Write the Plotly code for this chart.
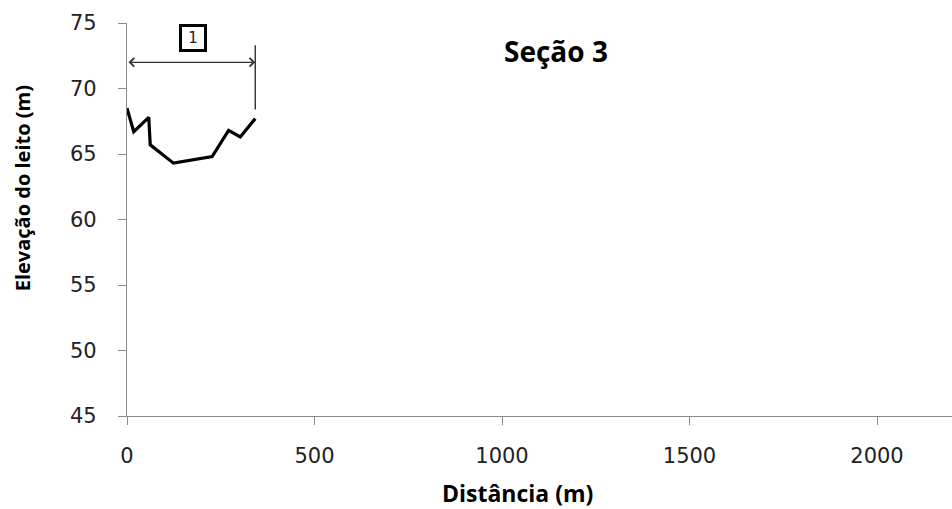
import plotly.graph_objects as go

# Bed profile (distance in m, elevation in m)
distance = [0, 18, 58, 62, 124, 227, 271, 302, 342]
elevation = [68.5, 66.7, 67.8, 65.7, 64.3, 64.8, 66.8, 66.3, 67.7]

# Bracket annotation "1"
bracket_x = [0, 342]
bracket_y = 72.0
marker_line_x = [342, 342]
marker_line_y = [68.4, 73.3]
label_x = 176
label_y = 73.85
label_text = "1"

title_text = "Seção 3"
x_title = "Distância (m)"
y_title = "Elevação do leito (m)"
x_ticks = [0, 500, 1000, 1500, 2000]
y_ticks = [45, 50, 55, 60, 65, 70, 75]

fig = go.Figure()
fig.add_trace(go.Scatter(x=distance, y=elevation, mode="lines",
                         line=dict(color="black", width=3.2), showlegend=False,
                         hoverinfo="skip"))
fig.add_trace(go.Scatter(x=marker_line_x, y=marker_line_y, mode="lines",
                         line=dict(color="#222222", width=1.3), showlegend=False,
                         hoverinfo="skip"))

fig.add_annotation(x=bracket_x[1], y=bracket_y, ax=bracket_x[0], ay=bracket_y,
                   xref="x", yref="y", axref="x", ayref="y", text="",
                   showarrow=True, arrowhead=4, startarrowhead=4,
                   arrowside="end+start", arrowsize=1.3, startarrowsize=1.3,
                   arrowwidth=1.3, arrowcolor="#333333")
fig.add_annotation(x=label_x, y=label_y, xref="x", yref="y", text=label_text,
                   showarrow=False, font=dict(family="DejaVu Sans", size=15, color="#222"),
                   bordercolor="black", borderwidth=3, width=22, height=22, borderpad=0,
                   bgcolor="white")

# Chart title
fig.add_annotation(x=0.52, y=0.93, xref="paper", yref="paper", xanchor="center",
                   yanchor="middle",
                   text="<b>" + title_text + "</b>", showarrow=False,
                   font=dict(family="Open Sans", size=28, color="black"))
# Axis titles (placed as annotations to match the reference offsets)
fig.add_annotation(x=0.473, y=-0.195, xref="paper", yref="paper", xanchor="center",
                   yanchor="middle", text="<b>" + x_title + "</b>", showarrow=False,
                   font=dict(family="Open Sans", size=23, color="black"))
fig.add_annotation(x=-0.127, y=0.58, xref="paper", yref="paper", xanchor="center",
                   yanchor="middle", textangle=-90, text="<b>" + y_title + "</b>",
                   showarrow=False, font=dict(family="Open Sans", size=20, color="black"))

axis_common = dict(showgrid=False, zeroline=False, showline=True, linecolor="#8c8c8c",
                   linewidth=1.2, ticks="outside", ticklen=8, tickcolor="#8c8c8c",
                   tickfont=dict(family="DejaVu Sans", size=21, color="#222"))

fig.update_xaxes(range=[0, 2200], tickvals=x_ticks, **axis_common, ticklabelstandoff=13)
fig.update_yaxes(range=[45, 75], tickvals=y_ticks, **axis_common, ticklabelstandoff=17)

fig.update_layout(width=952, height=509, plot_bgcolor="white", paper_bgcolor="white",
                  margin=dict(l=127, r=0, t=23, b=93))

fig.write_html("out.html")
